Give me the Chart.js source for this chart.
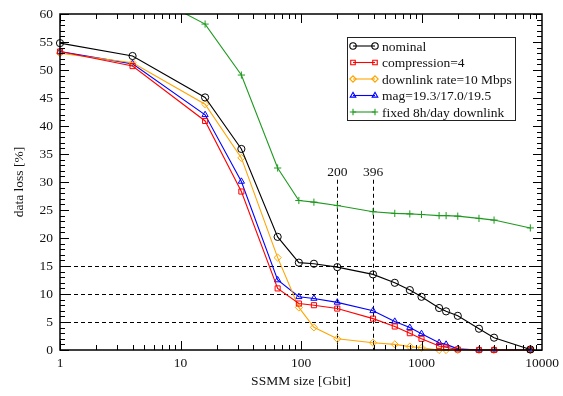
<!DOCTYPE html>
<html>
<head>
<meta charset="utf-8">
<script src="https://cdn.jsdelivr.net/npm/chart.js@4"></script>
<style>
  html, body { margin: 0; padding: 0; background: #fff; }
  #wrap { width: 563px; height: 396px; }
</style>
</head>
<body>
<div id="wrap"><canvas id="chart" width="563" height="396"></canvas></div>
<script>
// SSMM size [Gbit]
const sizes = [1, 4, 16, 32, 64, 96, 128, 200, 396, 600, 800, 1000, 1400, 1600, 2000, 3000, 4000, 8000];

// data loss [%]
const nominal = [54.8, 52.5, 45.1, 35.9, 20.2, 15.6, 15.4, 14.8, 13.5, 12.0, 10.7, 9.5, 7.5, 6.9, 6.1, 3.8, 2.2, 0.1];
const compression4 = [53.3, 50.7, 40.9, 28.3, 11.0, 8.3, 8.0, 7.4, 5.6, 4.2, 3.0, 2.0, 0.7, 0.5, 0.1, 0, 0, 0];
const downlink10 = [53.0, 51.3, 43.9, 34.3, 16.5, 7.6, 4.05, 2.0, 1.3, 1.0, 0.6, 0.4, 0, 0, 0, 0, 0, 0];
const magSet = [53.3, 51.1, 42.0, 30.1, 12.5, 9.5, 9.2, 8.5, 7.0, 5.1, 4.0, 2.9, 1.3, 1.0, 0.2, 0, 0, 0];
const fixed8h = [68, 65, 58.2, 49.1, 32.5, 26.7, 26.4, 25.8, 24.7, 24.4, 24.3, 24.2, 24.0, 24.0, 23.9, 23.5, 23.2, 21.8];

const labels = ['nominal', 'compression=4', 'downlink rate=10 Mbps', 'mag=19.3/17.0/19.5', 'fixed 8h/day downlink'];
const markedSizes = [200, 396];
const refLevels = [5, 10, 15];
const xTicks = [1, 10, 100, 1000, 10000];

const FONT = '"Liberation Serif", "DejaVu Serif", serif';

function toPoints(values) {
  return sizes.map((x, i) => ({ x, y: values[i] }));
}

function series(label, values, color, pointStyle, clip) {
  return {
    label,
    data: toPoints(values),
    borderColor: color,
    backgroundColor: 'rgba(0,0,0,0)',
    pointBorderColor: color,
    pointBackgroundColor: 'rgba(0,0,0,0)',
    pointStyle,
    pointRadius: 3.6,
    pointBorderWidth: 1,
    borderWidth: 1.1,
    tension: 0,
    clip,
  };
}

const looseClip = { left: 8, top: 8, right: 8, bottom: 8 };

const datasets = [
  series(labels[0], nominal, '#000000', 'circle', looseClip),
  series(labels[1], compression4, '#ff0000', 'rect', looseClip),
  series(labels[2], downlink10, '#ffa500', 'rectRot', looseClip),
  series(labels[3], magSet, '#0000ff', 'triangle', looseClip),
  series(labels[4], fixed8h, '#1f991f', 'cross', { left: 8, top: 0, right: 8, bottom: 8 }),
];

const decorations = {
  id: 'decorations',
  beforeDatasetsDraw(chart) {
    const { ctx, chartArea: a, scales: { x, y } } = chart;
    ctx.save();
    ctx.strokeStyle = '#000';
    ctx.lineWidth = 1;
    ctx.setLineDash([4, 3]);
    refLevels.forEach((v) => {
      const py = Math.round(y.getPixelForValue(v)) + 0.5;
      ctx.beginPath();
      ctx.moveTo(a.left, py);
      ctx.lineTo(a.right, py);
      ctx.stroke();
    });
    const topY = y.getPixelForValue(30.4);
    markedSizes.forEach((v) => {
      const px = Math.round(x.getPixelForValue(v)) + 0.5;
      ctx.beginPath();
      ctx.moveTo(px, topY);
      ctx.lineTo(px, a.bottom);
      ctx.stroke();
    });
    ctx.setLineDash([]);
    ctx.fillStyle = '#111';
    ctx.font = '13.5px ' + FONT;
    ctx.textAlign = 'center';
    ctx.textBaseline = 'bottom';
    markedSizes.forEach((v) => {
      ctx.fillText(String(v), x.getPixelForValue(v), topY - 1);
    });
    ctx.restore();
  },
  afterDraw(chart) {
    const { ctx, chartArea: a, scales: { x, y } } = chart;
    ctx.save();
    ctx.strokeStyle = '#000';
    ctx.lineWidth = 1;
    // minor and major ticks, all four sides, pointing inward
    for (let d = 0; d < 4; d++) {
      for (let m = 1; m <= 9; m++) {
        const px = Math.round(x.getPixelForValue(m * Math.pow(10, d))) + 0.5;
        const len = m === 1 ? 9 : 5;
        ctx.beginPath();
        ctx.moveTo(px, a.bottom);
        ctx.lineTo(px, a.bottom - len);
        ctx.moveTo(px, a.top);
        ctx.lineTo(px, a.top + len);
        ctx.stroke();
      }
    }
    for (let v = 0; v <= 60; v++) {
      const py = Math.round(y.getPixelForValue(v)) + 0.5;
      const len = v % 5 === 0 ? 9 : 5;
      ctx.beginPath();
      ctx.moveTo(a.left, py);
      ctx.lineTo(a.left + len, py);
      ctx.moveTo(a.right, py);
      ctx.lineTo(a.right - len, py);
      ctx.stroke();
    }
    ctx.lineWidth = 1.5;
    ctx.strokeRect(a.left, a.top, a.right - a.left, a.bottom - a.top);

    // legend box
    const box = { left: 347.5, top: 37.5, right: 515.5, bottom: 120.5 };
    ctx.fillStyle = '#fff';
    ctx.fillRect(box.left, box.top, box.right - box.left, box.bottom - box.top);
    ctx.lineWidth = 1;
    ctx.strokeStyle = '#222';
    ctx.strokeRect(box.left, box.top, box.right - box.left, box.bottom - box.top);
    ctx.font = '13.5px ' + FONT;
    ctx.textAlign = 'left';
    ctx.textBaseline = 'middle';
    chart.data.datasets.forEach((ds, i) => {
      const ly = 46 + i * 16.5;
      ctx.strokeStyle = ds.borderColor;
      ctx.lineWidth = 1.1;
      ctx.beginPath();
      ctx.moveTo(353, ly);
      ctx.lineTo(375, ly);
      ctx.stroke();
      ctx.fillStyle = 'rgba(0,0,0,0)';
      [353, 375].forEach((lx) => {
        Chart.helpers.drawPoint(ctx, {
          pointStyle: ds.pointStyle,
          radius: 3.2,
          rotation: 0,
          borderWidth: 1,
        }, lx, ly);
      });
      ctx.fillStyle = '#111';
      ctx.fillText(ds.label, 382, ly + 1);
    });
    ctx.restore();
  },
};

new Chart(document.getElementById('chart'), {
  type: 'line',
  data: { datasets },
  options: {
    responsive: false,
    animation: false,
    layout: { padding: { left: 0, top: 14, right: 21, bottom: 0 } },
    plugins: {
      legend: { display: false },
      tooltip: { enabled: false },
    },
    scales: {
      x: {
        type: 'logarithmic',
        min: 1,
        max: 10000,
        afterBuildTicks: (scale) => {
          scale.ticks = xTicks.map((v) => ({ value: v }));
        },
        afterFit: (scale) => { scale.height = 46; },
        ticks: {
          color: '#111',
          font: { family: FONT, size: 13.5 },
          padding: -3,
          maxRotation: 0,
          autoSkip: false,
          callback: (v) => String(v),
        },
        grid: { display: false },
        border: { display: false },
        title: {
          display: true,
          text: 'SSMM size [Gbit]',
          color: '#111',
          font: { family: FONT, size: 13.5 },
          padding: { top: 0, bottom: 6 },
        },
      },
      y: {
        min: 0,
        max: 60,
        afterFit: (scale) => { scale.width = 60; },
        ticks: {
          stepSize: 5,
          color: '#111',
          font: { family: FONT, size: 13.5 },
          padding: -1,
        },
        grid: { display: false },
        border: { display: false },
        title: {
          display: true,
          text: 'data loss [%]',
          color: '#111',
          font: { family: FONT, size: 13.5 },
          padding: { top: 11, bottom: 0 },
        },
      },
    },
  },
  plugins: [decorations],
});
</script>
</body>
</html>
